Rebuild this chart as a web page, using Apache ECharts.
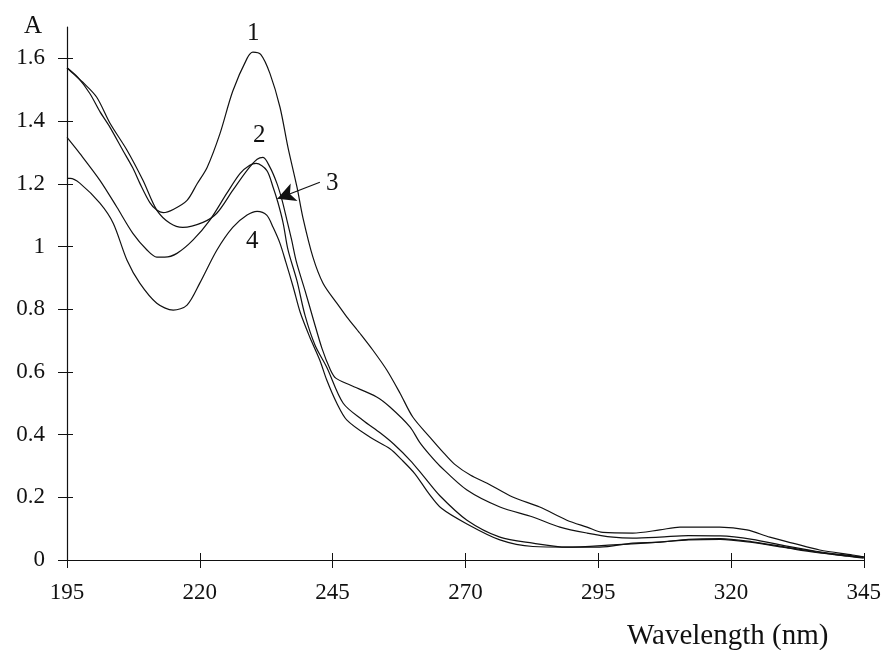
<!DOCTYPE html>
<html>
<head>
<meta charset="utf-8">
<script src="https://cdn.jsdelivr.net/npm/echarts@6/dist/echarts.min.js"></script>
<style>
  html, body { margin: 0; padding: 0; background: #fff; }
  #main { width: 884px; height: 650px; }
</style>
</head>
<body>
<div id="main"></div>
<script>
// tick values
const xTicks = [195, 220, 245, 270, 295, 320, 345];
const yTicks = [0, 0.2, 0.4, 0.6, 0.8, 1, 1.2, 1.4, 1.6];

// absorbance spectra, [wavelength nm, A]
const curve1 = [
  [195, 1.57], [197, 1.54], [199.3, 1.488], [201.2, 1.43], [203.1, 1.38], [205.5, 1.307],
  [207.4, 1.25], [208.7, 1.202], [210.6, 1.14], [211.9, 1.116], [213.1, 1.108], [215, 1.118],
  [217.6, 1.147], [219.5, 1.2], [221.4, 1.253], [223.8, 1.36], [226.2, 1.495], [228.9, 1.6],
  [230, 1.62], [231.5, 1.612], [233.2, 1.552], [235.1, 1.444], [236.6, 1.316], [238.3, 1.189],
  [239.4, 1.093], [241.3, 0.966], [243.2, 0.883], [245.8, 0.819], [247.7, 0.775], [250.1, 0.724],
  [252.6, 0.669], [255.2, 0.606], [257.7, 0.532], [260.1, 0.456], [263.3, 0.392], [266, 0.34],
  [268, 0.305], [271, 0.27], [274.1, 0.245], [278.9, 0.201], [284, 0.169], [289.1, 0.127],
  [292.9, 0.105], [295.9, 0.088], [301.5, 0.086], [306.6, 0.096], [310.4, 0.105], [317.9, 0.105],
  [323, 0.096], [327.3, 0.073], [331.6, 0.054], [336.7, 0.032], [342.9, 0.016], [345, 0.01]
];
const curve2 = [
  [195, 1.57], [196.1, 1.552], [198.2, 1.52], [200.6, 1.476], [203.1, 1.393], [206.3, 1.307],
  [209.3, 1.211], [211.9, 1.116], [214.4, 1.074], [216.8, 1.061], [220.6, 1.077], [223.2, 1.106],
  [226.2, 1.179], [228.9, 1.243], [230.8, 1.278], [231.9, 1.284], [233.2, 1.253], [234.5, 1.202],
  [235.5, 1.147], [236.4, 1.084], [237.3, 1.02], [238.2, 0.95], [239.8, 0.86], [241.5, 0.76],
  [243, 0.675], [244.5, 0.61], [245.6, 0.58], [248.3, 0.558], [253.3, 0.52], [255.8, 0.488],
  [259.6, 0.424], [261.4, 0.375], [263.3, 0.335], [265.2, 0.3], [270.3, 0.223], [276.5, 0.169],
  [282.7, 0.137], [287.8, 0.105], [292.9, 0.086], [297.8, 0.073], [301.5, 0.07], [306.6, 0.073],
  [312, 0.078], [318, 0.077], [324, 0.066], [330, 0.046], [336, 0.028], [342, 0.015], [345, 0.01]
];
const curve3 = [
  [195, 1.348], [197.4, 1.297], [201.2, 1.211], [204.4, 1.125], [207.4, 1.042], [210.1, 0.988],
  [211.9, 0.966], [213.4, 0.966], [215.7, 0.978], [218.7, 1.02], [221.9, 1.084], [225.1, 1.17],
  [227.6, 1.233], [229.4, 1.259], [230.6, 1.265], [232.6, 1.243], [233.8, 1.189], [234.7, 1.141],
  [235.7, 1.074], [236.6, 0.99], [238.3, 0.89], [239.8, 0.781], [241.7, 0.685], [243.9, 0.615],
  [247, 0.5], [250.7, 0.446], [254, 0.405], [256.5, 0.37], [259.6, 0.318], [262, 0.27],
  [265.2, 0.205], [270.3, 0.127], [276.5, 0.073], [282.7, 0.054], [289.1, 0.041], [295.3, 0.041],
  [301.5, 0.054], [306.6, 0.057], [312, 0.066], [318, 0.068], [324, 0.058], [330, 0.042],
  [336, 0.026], [342, 0.013], [345, 0.008]
];
const curve4 = [
  [195, 1.217], [195.6, 1.217], [197.4, 1.202], [201.2, 1.138], [203.7, 1.074], [206.3, 0.956],
  [208.7, 0.883], [211.9, 0.819], [215, 0.797], [217.6, 0.813], [220, 0.883], [223.2, 0.988],
  [226.2, 1.061], [228.9, 1.1], [230.8, 1.112], [232.6, 1.1], [233.8, 1.061], [235.1, 1.01],
  [236.2, 0.95], [237.6, 0.87], [238.9, 0.79], [240.7, 0.711], [242.6, 0.637], [243.9, 0.574],
  [245.8, 0.5], [247.7, 0.446], [252, 0.392], [255.8, 0.355], [258, 0.32], [260.5, 0.275],
  [263, 0.215], [265.5, 0.165], [270.3, 0.115], [276.5, 0.064], [282.7, 0.043], [289.1, 0.041],
  [297.8, 0.048], [306.6, 0.057], [312, 0.064], [318, 0.066], [324, 0.056], [330, 0.04],
  [336, 0.024], [342, 0.012], [345, 0.006]
];
const curveNames = ['1', '2', '3', '4'];
// arrow pointing at curve 3: [start, end]
const arrow3 = [[242.6, 1.205], [234.6, 1.152]];

const serif = '"Liberation Serif", "DejaVu Serif", serif';
const chart = echarts.init(document.getElementById('main'));

const lineSeries = [curve1, curve2, curve3, curve4].map((d, i) => ({
  name: curveNames[i],
  type: 'line',
  data: d,
  smooth: 0.3,
  showSymbol: false,
  silent: true,
  lineStyle: { color: '#111', width: 1.2 }
}));

lineSeries[2].markLine = {
  silent: true,
  symbol: ['none', 'arrow'],
  symbolSize: [14, 18],
  label: { show: false },
  lineStyle: { color: '#111', width: 1.2, type: 'solid' },
  data: [[{ coord: arrow3[0] }, { coord: arrow3[1] }]]
};

const option = {
  animation: false,
  backgroundColor: '#fff',
  grid: { left: 67, right: 19, top: 27, bottom: 90 },
  xAxis: [
    {
      type: 'value',
      min: 195,
      max: 345,
      axisLine: { lineStyle: { color: '#111', width: 1.2 } },
      axisTick: { show: true, length: 8, customValues: xTicks, lineStyle: { color: '#111' } },
      axisLabel: {
        customValues: xTicks,
        margin: 21,
        color: '#111',
        fontFamily: serif,
        fontSize: 23
      },
      splitLine: { show: false }
    },
    {
      type: 'value',
      min: 195,
      max: 345,
      position: 'bottom',
      axisLine: { show: false },
      axisTick: { show: true, inside: true, length: 7, customValues: xTicks, lineStyle: { color: '#111' } },
      axisLabel: { show: false },
      splitLine: { show: false }
    }
  ],
  yAxis: [
    {
      type: 'value',
      min: 0,
      max: 1.7,
      axisLine: { show: true, lineStyle: { color: '#111', width: 1.2 } },
      axisTick: { show: true, length: 9, customValues: yTicks, lineStyle: { color: '#111' } },
      axisLabel: {
        customValues: yTicks,
        margin: 22,
        color: '#111',
        fontFamily: serif,
        fontSize: 23
      },
      splitLine: { show: false }
    },
    {
      type: 'value',
      min: 0,
      max: 1.7,
      position: 'left',
      axisLine: { show: false },
      axisTick: { show: true, inside: true, length: 6, customValues: yTicks, lineStyle: { color: '#111' } },
      axisLabel: { show: false },
      splitLine: { show: false }
    }
  ],
  graphic: [
    { type: 'text', left: 24, top: 14, style: { text: 'A', font: '25px ' + serif, fill: '#111' } },
    { type: 'text', left: 627, top: 622, style: { text: 'Wavelength (nm)', font: '29px ' + serif, fill: '#111' } },
    { type: 'text', left: 247, top: 21, style: { text: '1', font: '25px ' + serif, fill: '#111' } },
    { type: 'text', left: 253, top: 123, style: { text: '2', font: '25px ' + serif, fill: '#111' } },
    { type: 'text', left: 326, top: 171, style: { text: '3', font: '25px ' + serif, fill: '#111' } },
    { type: 'text', left: 246, top: 229, style: { text: '4', font: '25px ' + serif, fill: '#111' } }
  ],
  series: lineSeries
};

chart.setOption(option);
</script>
</body>
</html>
